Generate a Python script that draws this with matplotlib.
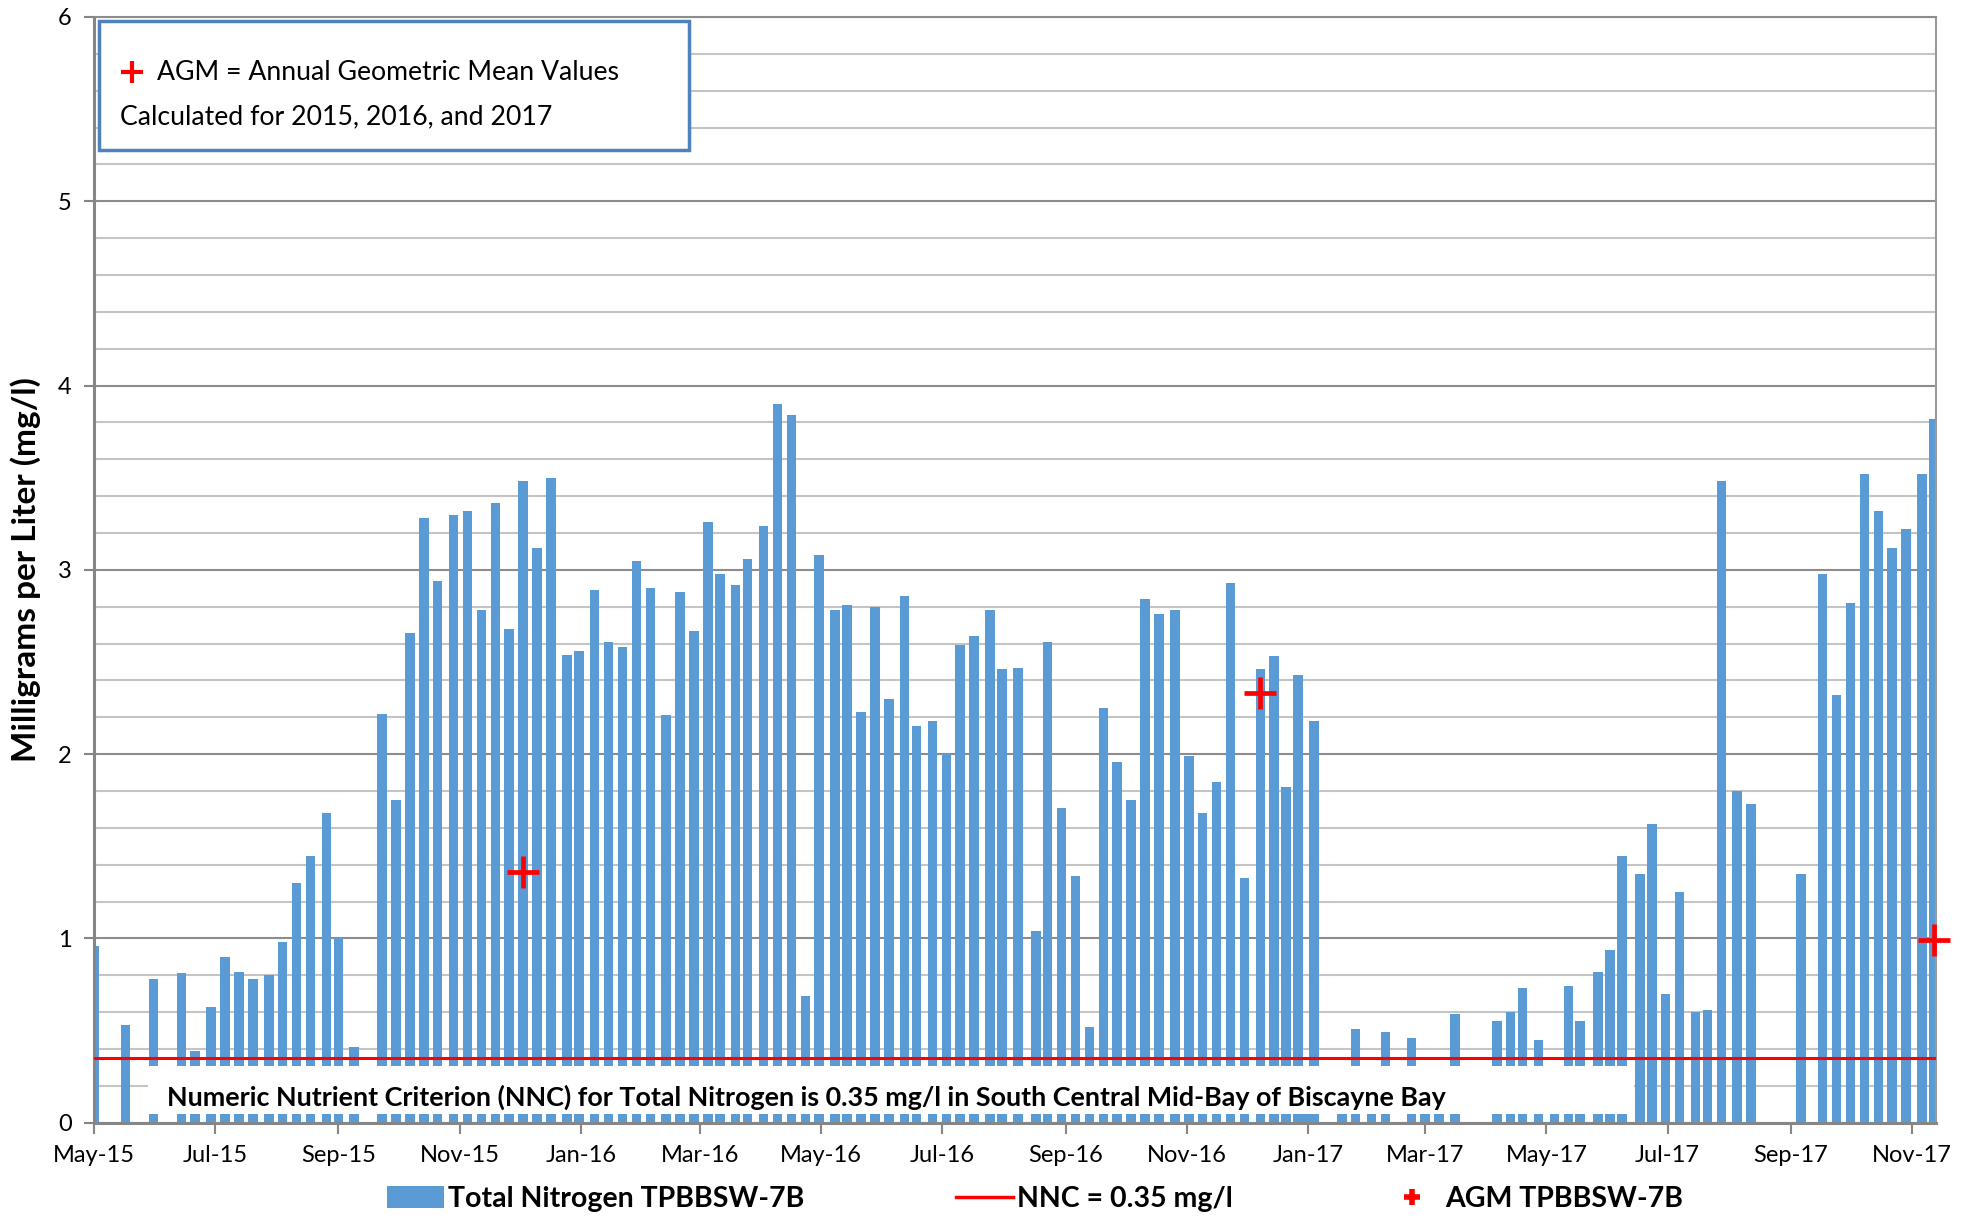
import numpy as np
import pandas as pd
import matplotlib
matplotlib.use("Agg")
import matplotlib.pyplot as plt
import matplotlib.dates as mdates
import matplotlib.transforms as mtransforms
from matplotlib.patches import Rectangle, Patch
from matplotlib.lines import Line2D

plt.rcParams['font.family'] = ['Lato', 'DejaVu Sans']

# Total Nitrogen samples at TPBBSW-7B (mg/l)
sample_dates = [
    '2015-05-01', '2015-05-17', '2015-05-31', '2015-06-14', '2015-06-21', '2015-06-29',
    '2015-07-06', '2015-07-13', '2015-07-20', '2015-07-28', '2015-08-04', '2015-08-11',
    '2015-08-18', '2015-08-26', '2015-09-01', '2015-09-09', '2015-09-23', '2015-09-30',
    '2015-10-07', '2015-10-14', '2015-10-21', '2015-10-29', '2015-11-05', '2015-11-12',
    '2015-11-19', '2015-11-26', '2015-12-03', '2015-12-10', '2015-12-17', '2015-12-25',
    '2015-12-31', '2016-01-08', '2016-01-15', '2016-01-22', '2016-01-29', '2016-02-05',
    '2016-02-13', '2016-02-20', '2016-02-27', '2016-03-05', '2016-03-11', '2016-03-19',
    '2016-03-25', '2016-04-02', '2016-04-09', '2016-04-16', '2016-04-23', '2016-04-30',
    '2016-05-08', '2016-05-14', '2016-05-21', '2016-05-28', '2016-06-04', '2016-06-12',
    '2016-06-18', '2016-06-26', '2016-07-03', '2016-07-10', '2016-07-17', '2016-07-25',
    '2016-07-31', '2016-08-08', '2016-08-17', '2016-08-23', '2016-08-30', '2016-09-06',
    '2016-09-13', '2016-09-20', '2016-09-27', '2016-10-04', '2016-10-11', '2016-10-18',
    '2016-10-26', '2016-11-02', '2016-11-09', '2016-11-16', '2016-11-23', '2016-11-30',
    '2016-12-08', '2016-12-15', '2016-12-21', '2016-12-27', '2016-12-31', '2017-01-04',
    '2017-01-18', '2017-01-25', '2017-02-02', '2017-02-09', '2017-02-22', '2017-03-01',
    '2017-03-08', '2017-03-16', '2017-04-06', '2017-04-13', '2017-04-19', '2017-04-27',
    '2017-05-05', '2017-05-12', '2017-05-18', '2017-05-27', '2017-06-02', '2017-06-08',
    '2017-06-17', '2017-06-23', '2017-06-30', '2017-07-07', '2017-07-15', '2017-07-21',
    '2017-07-28', '2017-08-05', '2017-08-12', '2017-09-06', '2017-09-17', '2017-09-24',
    '2017-10-01', '2017-10-08', '2017-10-15', '2017-10-22', '2017-10-29', '2017-11-06',
    '2017-11-12',
]
tn_values = [
    0.96, 0.53, 0.78, 0.81, 0.39, 0.63,
    0.90, 0.82, 0.78, 0.80, 0.98, 1.30,
    1.45, 1.68, 1.00, 0.41, 2.22, 1.75,
    2.66, 3.28, 2.94, 3.30, 3.32, 2.78,
    3.36, 2.68, 3.48, 3.12, 3.50, 2.54,
    2.56, 2.89, 2.61, 2.58, 3.05, 2.90,
    2.21, 2.88, 2.67, 3.26, 2.98, 2.92,
    3.06, 3.24, 3.90, 3.84, 0.69, 3.08,
    2.78, 2.81, 2.23, 2.80, 2.30, 2.86,
    2.15, 2.18, 2.00, 2.59, 2.64, 2.78,
    2.46, 2.47, 1.04, 2.61, 1.71, 1.34,
    0.52, 2.25, 1.96, 1.75, 2.84, 2.76,
    2.78, 1.99, 1.68, 1.85, 2.93, 1.33,
    2.46, 2.53, 1.82, 2.43, 0.31, 2.18,
    0.20, 0.51, 0.20, 0.49, 0.46, 0.20,
    0.31, 0.59, 0.55, 0.60, 0.73, 0.45,
    0.20, 0.74, 0.55, 0.82, 0.94, 1.45,
    1.35, 1.62, 0.70, 1.25, 0.60, 0.61,
    3.48, 1.80, 1.73, 1.35, 2.98, 2.32,
    2.82, 3.52, 3.32, 3.12, 3.22, 3.52,
    3.82,
]

# Annual geometric means
agm_dates = ['2015-12-03', '2016-12-08', '2017-11-12']
agm_values = [1.36, 2.33, 0.99]

nnc_value = 0.35

blue = '#5B9BD5'
grey = '#868686'

fig = plt.figure(figsize=(19.73, 12.18), dpi=100)
ax = fig.add_axes([0.0476, 0.0782, 0.9336, 0.9079])

ax.bar(pd.to_datetime(sample_dates), tn_values, width=4.8, color=blue, zorder=2)
ax.axhline(nnc_value, color='red', lw=2.2, zorder=4)
ax.plot(pd.to_datetime(agm_dates), agm_values, ls='none', marker='+', ms=23,
        mew=3.4, color='red', zorder=6, clip_on=False)

# axes
ax.set_xlim(pd.Timestamp('2015-05-01'), pd.Timestamp('2017-11-13'))
ax.set_ylim(0, 6)
ax.set_yticks(np.arange(0, 7, 1))
ax.set_yticks(np.arange(0, 6.01, 0.2), minor=True)
ax.grid(which='major', axis='y', color='#8C8C8C', lw=1.5, zorder=0)
ax.grid(which='minor', axis='y', color='#C4C4C4', lw=1.5, zorder=0)
ax.set_axisbelow(True)

ax.xaxis.set_major_locator(mdates.MonthLocator(bymonth=[1, 3, 5, 7, 9, 11]))
ax.xaxis.set_major_formatter(mdates.DateFormatter('%b-%y'))

for side in ['left', 'bottom']:
    ax.spines[side].set_color(grey)
    ax.spines[side].set_linewidth(2.2)
ax.spines['right'].set_color('#9A9A9A')
ax.spines['right'].set_linewidth(1.5)
ax.spines['top'].set_color('#8C8C8C')
ax.spines['top'].set_linewidth(1.5)

ax.tick_params(axis='y', which='major', length=7, width=1.5, color=grey,
               labelsize=17, pad=9)
ax.tick_params(axis='y', which='minor', length=0)
ax.tick_params(axis='x', which='major', length=8, width=1.5, color=grey,
               labelsize=17, pad=8)

ax.set_ylabel('Milligrams per Liter (mg/l)', fontsize=24, fontweight='bold')
ax.yaxis.set_label_coords(-0.0285, 0.5)

# criterion note box over the bar bases
mixed = mtransforms.blended_transform_factory(ax.transAxes, ax.transData)
ax.add_patch(Rectangle((0.0293, 0.045), 0.8066, 0.265, transform=mixed,
                       facecolor='white', edgecolor='none', zorder=3))
ax.text(0.0396, 0.14,
        'Numeric Nutrient Criterion (NNC) for Total Nitrogen is 0.35 mg/l '
        'in South Central Mid-Bay of Biscayne Bay',
        transform=mixed, fontsize=19.4, fontweight='bold', va='center', ha='left',
        zorder=5)

# AGM explanation box
ax.add_patch(Rectangle((0.0027, 0.8796), 0.3203, 0.1167, transform=ax.transAxes,
                       facecolor='white', edgecolor='#4F81BD', lw=2.5, zorder=5))
ax.plot([0.0205], [0.9504], transform=ax.transAxes, marker='+', ms=16, mew=3,
        color='red', zorder=6, clip_on=False)
ax.text(0.0342, 0.9493, 'AGM = Annual Geometric Mean Values', transform=ax.transAxes,
        fontsize=19.2, va='center', ha='left', zorder=6)
ax.text(0.0139, 0.9097, 'Calculated for 2015, 2016, and 2017', transform=ax.transAxes,
        fontsize=19.2, va='center', ha='left', zorder=6)

handles = [
    Patch(facecolor=blue),
    Line2D([], [], color='red', lw=2.5),
    Line2D([], [], ls='none', marker='+', ms=12, mew=4, color='red'),
]
labels = ['Total Nitrogen TPBBSW-7B', 'NNC = 0.35 mg/l', 'AGM TPBBSW-7B']
fig.legend(handles, labels, loc='center', bbox_to_anchor=(0.5246, 0.0155), ncol=3,
           frameon=False, prop={'weight': 'bold', 'size': 20.5}, handlelength=2.0,
           handleheight=0.8, handletextpad=0.15, columnspacing=5.3)

fig.savefig('out.png', dpi=100)
